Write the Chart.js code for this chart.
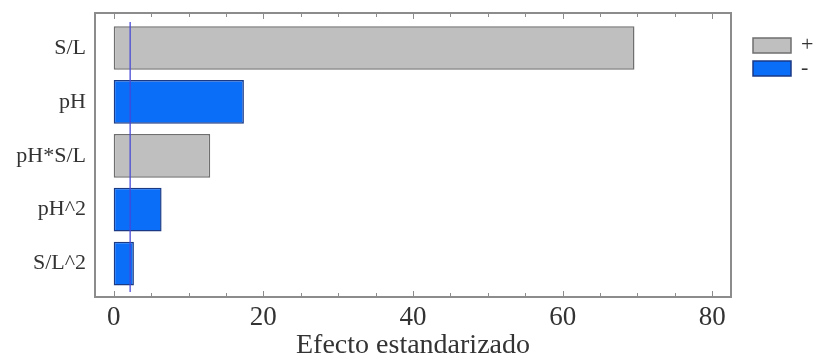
<!DOCTYPE html>
<html>
<head>
<meta charset="utf-8">
<style>
  html, body { margin: 0; padding: 0; background: #ffffff; }
  #wrap { width: 813px; height: 360px; position: relative; }
</style>
<script src="https://cdn.jsdelivr.net/npm/chart.js@4/dist/chart.umd.min.js"></script>
</head>
<body>
<div id="wrap"><canvas id="chart" width="813" height="360"></canvas></div>
<script>
// Pareto chart of standardized effects
const categories = ['S/L', 'pH', 'pH*S/L', 'pH^2', 'S/L^2'];
const effects    = [69.6, 17.4, 12.9, 6.4, 2.7];
const signs      = ['+', '-', '+', '-', '-'];
const xTicks     = [0, 5, 10, 15, 20, 25, 30, 35, 40, 45, 50, 55, 60, 65, 70, 75, 80];
const xLabelTicks = [0, 20, 40, 60, 80];
const criticalValue = 2.2;

const seriesLabels = ['+', '-'];
const fillColors   = ['#bfbfbf', '#0b6ef8'];
const edgeColors   = ['#6f6f6f', '#1b3a86'];

const serif = "'Liberation Serif', 'DejaVu Serif', serif";

const datasets = seriesLabels.map((lab, k) => ({
  label: lab,
  data: categories
    .map((c, i) => ({ y: i, x: effects[i], s: signs[i] }))
    .filter(p => p.s === lab)
    .map(p => ({ y: p.y, x: p.x })),
  backgroundColor: fillColors[k],
  borderColor: edgeColors[k],
  borderWidth: 1.5,
  borderSkipped: false,
  grouped: false,
  barPercentage: 0.81,
  categoryPercentage: 1.0
}));

// Frame, inward tick marks, critical line and legend
const decorations = {
  id: 'decorations',
  afterDatasetsDraw(chart) {
    const { ctx, chartArea: a, scales } = chart;
    const xs = scales.x;
    ctx.save();
    // critical value line
    const cx = xs.getPixelForValue(criticalValue);
    ctx.strokeStyle = 'rgba(70, 70, 215, 0.85)';
    ctx.lineWidth = 1.5;
    ctx.beginPath();
    ctx.moveTo(cx, a.top + 9);
    ctx.lineTo(cx, a.bottom - 5);
    ctx.stroke();

    // frame
    ctx.strokeStyle = '#8c8c8c';
    ctx.lineWidth = 2;
    ctx.strokeRect(a.left, a.top, a.right - a.left, a.bottom - a.top);

    // tick marks pointing inward on top and bottom edges
    ctx.strokeStyle = '#8c8c8c';
    ctx.lineWidth = 1;
    xTicks.forEach(v => {
      const px = Math.round(xs.getPixelForValue(v)) + 0.5;
      const len = xLabelTicks.includes(v) ? 6 : 4;
      ctx.beginPath();
      ctx.moveTo(px, a.bottom);
      ctx.lineTo(px, a.bottom - len);
      ctx.moveTo(px, a.top);
      ctx.lineTo(px, a.top + len);
      ctx.stroke();
    });

    // legend
    const lx = 753, ly = [38, 61], bw = 38, bh = 15;
    ctx.font = '22px ' + serif;
    ctx.textBaseline = 'middle';
    ctx.textAlign = 'left';
    chart.data.datasets.forEach((ds, k) => {
      ctx.fillStyle = ds.backgroundColor;
      ctx.fillRect(lx, ly[k], bw, bh);
      ctx.strokeStyle = ds.borderColor;
      ctx.lineWidth = 1.5;
      ctx.strokeRect(lx, ly[k], bw, bh);
      ctx.fillStyle = '#333333';
      ctx.fillText(ds.label, 801, ly[k] + bh / 2);
    });
    ctx.restore();
  }
};

new Chart(document.getElementById('chart'), {
  type: 'bar',
  data: { datasets },
  options: {
    indexAxis: 'y',
    responsive: false,
    animation: false,
    layout: { padding: { top: 13, right: 82, left: 0, bottom: 0 } },
    plugins: {
      legend: { display: false },
      tooltip: { enabled: false }
    },
    scales: {
      x: {
        type: 'linear',
        position: 'bottom',
        min: -2.5,
        max: 82.5,
        offset: false,
        grid: { display: false, drawTicks: false },
        border: { display: false },
        afterBuildTicks(scale) { scale.ticks = xTicks.map(v => ({ value: v })); },
        afterFit(scale) {
          scale.height = 63;
          scale.paddingLeft = 0;
          scale.paddingRight = 0;
        },
        ticks: {
          autoSkip: false,
          maxRotation: 0,
          padding: 5,
          color: '#333333',
          font: { family: serif, size: 27 },
          callback: v => (xLabelTicks.includes(v) ? String(v) : '')
        },
        title: {
          display: true,
          text: 'Efecto estandarizado',
          color: '#333333',
          font: { family: serif, size: 28, lineHeight: 1.0 },
          padding: { top: 0, bottom: 0 }
        }
      },
      y: {
        type: 'linear',
        position: 'left',
        reverse: true,
        offset: false,
        min: -0.65,
        max: 4.62,
        grid: { display: false, drawTicks: false, offset: false },
        border: { display: false },
        afterBuildTicks(scale) { scale.ticks = categories.map((c, i) => ({ value: i })); },
        afterFit(scale) {
          scale.width = 95;
          scale.paddingTop = 0;
          scale.paddingBottom = 0;
        },
        ticks: {
          autoSkip: false,
          padding: 9,
          color: '#333333',
          font: { family: serif, size: 22 },
          callback: v => categories[v]
        }
      }
    }
  },
  plugins: [decorations]
});
</script>
</body>
</html>
